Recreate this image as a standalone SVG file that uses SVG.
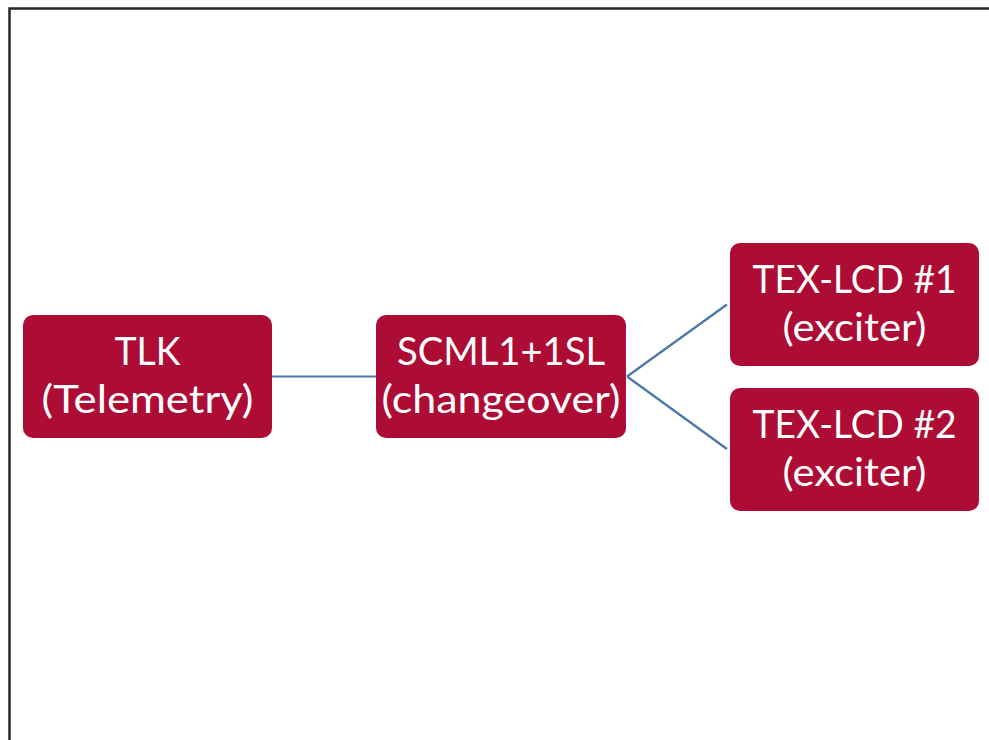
<svg xmlns="http://www.w3.org/2000/svg" width="989" height="740" viewBox="0 0 989 740">
<style>
.frame{fill:none;stroke:#262626;stroke-width:2.5}
.box{fill:#AD0C34;stroke:none}
.lbl{fill:#ffffff;font-family:Lato,"Liberation Sans",sans-serif;font-size:39px;text-anchor:middle}
.conn{fill:none;stroke:#4A76A8;stroke-width:2.2}
</style>
<rect width="989" height="740" fill="#ffffff"/>
<path class="frame" d="M9.5,740 V8.5 H989"/>
<g id="connectors">
<line class="conn" x1="272" y1="376.5" x2="376" y2="376.5"/>
<line class="conn" x1="627" y1="376.5" x2="727" y2="304.5"/>
<line class="conn" x1="627" y1="376.5" x2="727" y2="449"/>
</g>
<g id="tlk">
<rect class="box" x="23" y="315" width="249" height="123" rx="10"/>
<text class="lbl" x="147.5" y="364.5" textLength="66" lengthAdjust="spacingAndGlyphs">TLK</text>
<text class="lbl" x="147.5" y="412.5" textLength="212" lengthAdjust="spacingAndGlyphs">(Telemetry)</text>
</g>
<g id="scml">
<rect class="box" x="376" y="315" width="250" height="123" rx="10"/>
<text class="lbl" x="501" y="364.5" textLength="208" lengthAdjust="spacingAndGlyphs">SCML1+1SL</text>
<text class="lbl" x="501" y="412.5" textLength="239" lengthAdjust="spacingAndGlyphs">(changeover)</text>
</g>
<g id="tex1">
<rect class="box" x="730" y="243" width="249" height="123" rx="10"/>
<text class="lbl" x="854.5" y="292.5" textLength="204" lengthAdjust="spacingAndGlyphs">TEX-LCD #1</text>
<text class="lbl" x="854.5" y="340.5" textLength="144" lengthAdjust="spacingAndGlyphs">(exciter)</text>
</g>
<g id="tex2">
<rect class="box" x="730" y="388" width="249" height="123" rx="10"/>
<text class="lbl" x="854.5" y="437.5" textLength="204" lengthAdjust="spacingAndGlyphs">TEX-LCD #2</text>
<text class="lbl" x="854.5" y="485.5" textLength="144" lengthAdjust="spacingAndGlyphs">(exciter)</text>
</g>
</svg>
